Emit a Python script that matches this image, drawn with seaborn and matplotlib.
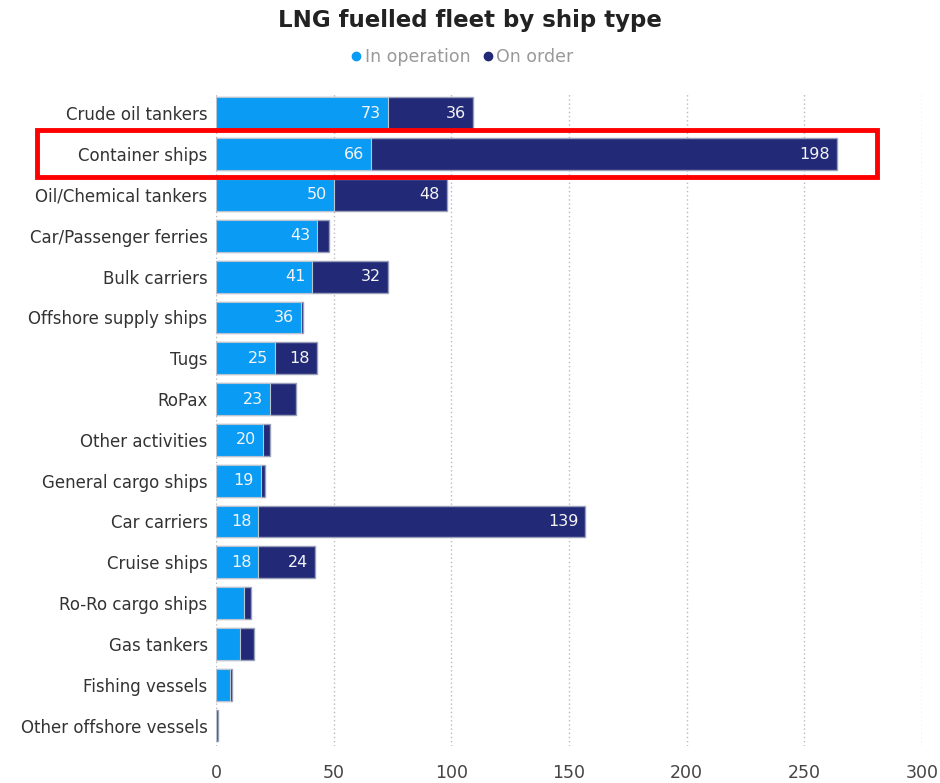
import matplotlib
matplotlib.use("Agg")
import matplotlib.pyplot as plt
import seaborn as sns
import pandas as pd
from matplotlib.patches import Rectangle
from matplotlib.lines import Line2D

categories = ["Crude oil tankers", "Container ships", "Oil/Chemical tankers",
              "Car/Passenger ferries", "Bulk carriers", "Offshore supply ships",
              "Tugs", "RoPax", "Other activities", "General cargo ships",
              "Car carriers", "Cruise ships", "Ro-Ro cargo ships", "Gas tankers",
              "Fishing vessels", "Other offshore vessels"]
in_operation = [73, 66, 50, 43, 41, 36, 25, 23, 20, 19, 18, 18, 12, 10, 6, 0]
on_order = [36, 198, 48, 5, 32, 1, 18, 11, 3, 2, 139, 24, 3, 6, 1, 1]
x_ticks = [0, 50, 100, 150, 200, 250, 300]

c_op = "#0A9CF5"
c_ord = "#222A78"

df = pd.DataFrame({"type": categories, "op": in_operation, "ord": on_order})
df["total"] = df["op"] + df["ord"]

sns.set_style("white")
plt.rcParams["font.family"] = ["DejaVu Sans"]

fig = plt.figure(figsize=(9.4, 7.83), dpi=100)
ax = fig.add_axes([0.2298, 0.0473, 0.751, 0.834])

sns.barplot(data=df, y="type", x="total", color=c_ord, orient="h", width=0.78,
            edgecolor="#9AA0B8", linewidth=1.0, saturation=1, ax=ax, zorder=2)
sns.barplot(data=df, y="type", x="op", color=c_op, orient="h", width=0.78,
            edgecolor="#B8C4D0", linewidth=0.8, saturation=1, ax=ax, zorder=3)

for i, (o, r) in enumerate(zip(df["op"], df["ord"])):
    if o >= 15:
        ax.text(o - 3, i, str(o), ha="right", va="center", color="#F4F4F4",
                fontsize=11.5, zorder=5)
    if r >= 15:
        ax.text(o + r - 3, i, str(r), ha="right", va="center", color="#F4F4F4",
                fontsize=11.5, zorder=5)

ax.set_xlim(0, 300)
ax.set_ylim(15.5, -0.5)
ax.set_xticks(x_ticks)
ax.set_xticklabels([str(t) for t in x_ticks])
ax.set_xlabel("")
ax.set_ylabel("")
ax.xaxis.grid(True, color="#BBBBBB", linestyle=(0, (1, 2)), linewidth=1.0, zorder=0)
ax.set_axisbelow(True)
for s in ax.spines.values():
    s.set_visible(False)
ax.tick_params(axis="x", length=0, pad=13, labelsize=12.5, labelcolor="#444444")
ax.tick_params(axis="y", length=0, pad=6, labelsize=12, labelcolor="#333333")

fig.text(0.5, 0.974, "LNG fuelled fleet by ship type", ha="center", va="center",
         fontsize=16.5, fontweight="bold", color="#222222")

handles = [Line2D([], [], marker="o", linestyle="", color=c_op, markersize=6),
           Line2D([], [], marker="o", linestyle="", color=c_ord, markersize=6)]
fig.legend(handles, ["In operation", "On order"], loc="center",
           bbox_to_anchor=(0.49, 0.927), ncol=2, frameon=False,
           fontsize=12.5, labelcolor="#999999", handletextpad=0.0,
           columnspacing=0.5, handlelength=1.0)

fig.patches.append(Rectangle((37 / 940, 1 - 177 / 783), 840 / 940, 47 / 783,
                             transform=fig.transFigure, fill=False,
                             edgecolor="#FF0000", linewidth=3.5, zorder=10))

fig.savefig("out.png", dpi=100)
